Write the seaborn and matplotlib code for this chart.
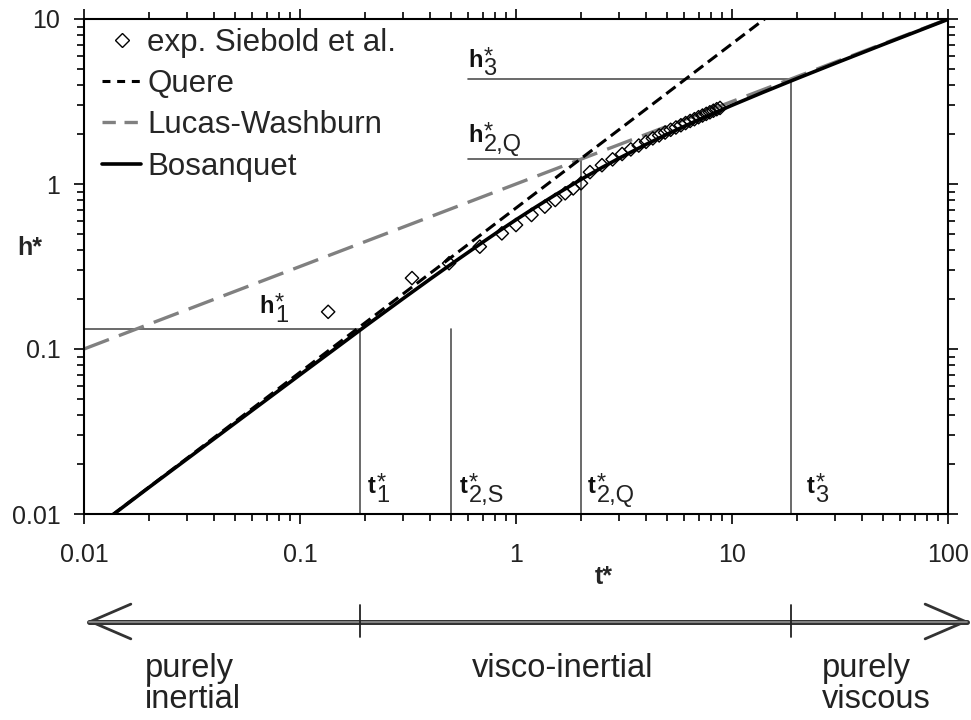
import pandas as pd
import seaborn as sns
import matplotlib.pyplot as plt
from matplotlib import transforms
from matplotlib import patheffects as pe
from matplotlib.lines import Line2D
from matplotlib.ticker import FixedLocator, FixedFormatter, NullFormatter

# ---- data ----
exp_t = [0.135, 0.33, 0.49, 0.68, 0.86, 1.0, 1.18, 1.36, 1.52, 1.69, 1.84, 2.0,
         2.2, 2.5, 2.8, 3.1, 3.4, 3.7, 4.0, 4.3, 4.6, 4.9, 5.2, 5.5, 5.8, 6.1,
         6.4, 6.7, 7.0, 7.3, 7.6, 7.9, 8.2, 8.5, 8.8]
exp_h = [0.168, 0.269, 0.331, 0.417, 0.502, 0.564, 0.649, 0.729, 0.80, 0.878, 0.94, 1.01,
         1.18, 1.30, 1.41, 1.52, 1.62, 1.71, 1.80, 1.89, 1.97, 2.05, 2.13, 2.20, 2.27, 2.34,
         2.41, 2.47, 2.54, 2.60, 2.66, 2.72, 2.78, 2.84, 2.89]

quere_t = [0.01, 15.0]
quere_h = [0.0073, 10.6]

lw_t = [0.01, 100.0]
lw_h = [0.1, 10.0]

bosanquet_t = [0.01, 0.02, 0.05, 0.1, 0.15, 0.2, 0.3, 0.4, 0.5, 0.7, 0.85, 1.0, 1.2, 1.5,
               2.0, 2.5, 3.0, 4.0, 5.0, 7.0, 10.0, 14.0, 20.0, 30.0, 50.0, 100.0]
bosanquet_h = [0.0073, 0.0145, 0.0355, 0.0698, 0.1035, 0.137, 0.202, 0.265, 0.326, 0.443,
               0.527, 0.607, 0.708, 0.850, 1.066, 1.258, 1.432, 1.737, 2.002, 2.450, 3.000,
               3.606, 4.359, 5.385, 7.0, 9.95]

# characteristic times / heights
t1, h1 = 0.19, 0.133
t2s = 0.5
t2q, h2q = 2.0, 1.414
t3, h3 = 18.7, 4.32
h_line_start = 0.6

xticks = [0.01, 0.1, 1, 10, 100]
xtick_labels = ['0.01', '0.1', '1', '10', '100']
yticks = [0.01, 0.1, 1, 10]
ytick_labels = ['0.01', '0.1', '1', '10']

regimes = ['purely\ninertial', 'visco-inertial', 'purely\nviscous']

# ---- style ----
sns.set_theme(style='ticks')
plt.rcParams['font.family'] = ['Liberation Sans', 'DejaVu Sans']
plt.rcParams['axes.edgecolor'] = 'black'

fig = plt.figure(figsize=(9.71, 7.2), dpi=100)
W, H = 971, 720
ax = fig.add_axes([84 / W, 1 - 514 / H, 864 / W, 495 / H])
ax.set_xscale('log')
ax.set_yscale('log')

ref = dict(color='#505050', lw=1.2, zorder=1)
# reference lines
ax.plot([0.01, t1], [h1, h1], **ref)
ax.plot([t1, t1], [0.01, h1], **ref)
ax.plot([t2s, t2s], [0.01, h1], **ref)
ax.plot([h_line_start, t2q], [h2q, h2q], **ref)
ax.plot([t2q, t2q], [0.01, h2q], **ref)
ax.plot([h_line_start, t3], [h3, h3], **ref)
ax.plot([t3, t3], [0.01, h3], **ref)

sns.lineplot(x=lw_t, y=lw_h, ax=ax, color='#808080', lw=2.4,
             linestyle=(0, (8, 3.2)), zorder=2)
sns.lineplot(x=quere_t, y=quere_h, ax=ax, color='black', lw=2.2,
             linestyle=(0, (3.8, 1.9)), zorder=3)
sns.lineplot(x=bosanquet_t, y=bosanquet_h, ax=ax, color='black', lw=2.6, zorder=4)
sns.scatterplot(x=exp_t, y=exp_h, ax=ax, marker='D', s=46, facecolor='none',
                edgecolor='black', linewidth=1.0, zorder=5)

ax.set_xlim(0.01, 100)
ax.set_ylim(0.01, 10)

ax.xaxis.set_major_locator(FixedLocator(xticks))
ax.xaxis.set_major_formatter(FixedFormatter(xtick_labels))
ax.yaxis.set_major_locator(FixedLocator(yticks))
ax.yaxis.set_major_formatter(FixedFormatter(ytick_labels))
ax.xaxis.set_minor_formatter(NullFormatter())
ax.yaxis.set_minor_formatter(NullFormatter())

ax.tick_params(which='both', direction='out', top=True, right=True,
               color='black', width=1.2)
ax.tick_params(which='major', length=7, labelsize=18, labelcolor='#222222')
ax.tick_params(which='minor', length=5)
ax.tick_params(axis='x', which='major', pad=14)
ax.tick_params(axis='y', which='major', pad=10)
for s in ax.spines.values():
    s.set_linewidth(1.5)
    s.set_color('black')

ax.set_xlabel('t*', fontsize=18, fontweight='bold')
ax.xaxis.set_label_coords((604 - 84) / 864, (514 - 577) / 495)
ax.xaxis.label.set_va('center')
ax.set_ylabel('h*', fontsize=18, fontweight='bold', rotation=0, ha='center', va='center')
ax.yaxis.set_label_coords((30 - 84) / 864, (514 - 248) / 495)

# legend
handles = [
    Line2D([], [], ls='none', marker='D', ms=6.8, mfc='none', mec='black', mew=1.0),
    Line2D([], [], color='black', lw=2.2, ls=(0, (2.6, 2.2))),
    Line2D([], [], color='#808080', lw=2.4, ls=(0, (4, 2.6))),
    Line2D([], [], color='black', lw=2.6),
]
labels = ['exp. Siebold et al.', 'Quere', 'Lucas-Washburn', 'Bosanquet']
ax.legend(handles, labels, loc='upper left', bbox_to_anchor=(18 / 864, 0.982),
          frameon=False, fontsize=22.5, handlelength=1.25, handletextpad=0.2,
          labelspacing=0.36, borderpad=0, borderaxespad=0)


def sym_label(x, y, base, sub):
    # bold base letter; star stacked above the subscript in one text
    b = ax.annotate(base, (x, y), xycoords='data', fontsize=17, fontweight='bold',
                    ha='left', va='bottom', color='#111111')
    ax.annotate('*\n' + sub, xy=(1, 0), xycoords=b, xytext=(0.6, -6.3),
                textcoords='offset points', fontsize=17, ha='left', va='bottom',
                linespacing=0.4, multialignment='left', color='#222222')


sym_label(0.065, 0.154, 'h', '1')
sym_label(0.60, 1.68, 'h', '2,Q')
sym_label(0.60, 4.79, 'h', '3')
sym_label(0.206, 0.0125, 't', '1')
sym_label(0.55, 0.0125, 't', '2,S')
sym_label(2.15, 0.0125, 't', '2,Q')
sym_label(22.2, 0.0125, 't', '3')

# regime arrow below the axis (x in data, y in figure fraction)
tr = transforms.blended_transform_factory(ax.transData, fig.transFigure)
y_arrow = 1 - 621.5 / H
arrow_l, arrow_r = 0.01033, 125
ax.annotate('', xy=(arrow_l, y_arrow), xycoords=tr, xytext=(arrow_r, y_arrow), textcoords=tr,
            annotation_clip=False,
            arrowprops=dict(arrowstyle='<->,head_length=2.9,head_width=1.25',
                            mutation_scale=10, lw=2.0, color='#333333',
                            shrinkA=0, shrinkB=0))
ax.plot([arrow_l * 1.02, arrow_r / 1.02], [y_arrow, y_arrow], transform=tr, color='#8a8a8a',
        lw=1.3, clip_on=False, zorder=6,
        path_effects=[pe.Stroke(linewidth=3.6, foreground='#333333'), pe.Normal()])
for tx in [t1, t3]:
    ax.plot([tx, tx], [1 - 605 / H, 1 - 637 / H], transform=tr, color='#222222',
            lw=1.3, clip_on=False, zorder=7)

fig.text(145 / W, 1 - 653 / H, regimes[0], fontsize=23.5, ha='left', va='top',
         linespacing=1.0, color='#222222')
fig.text(563 / W, 1 - 653 / H, regimes[1], fontsize=23.5, ha='center', va='top',
         color='#222222')
fig.text(822 / W, 1 - 653 / H, regimes[2], fontsize=23.5, ha='left', va='top',
         linespacing=1.0, color='#222222')

fig.savefig('out.png', dpi=100)
